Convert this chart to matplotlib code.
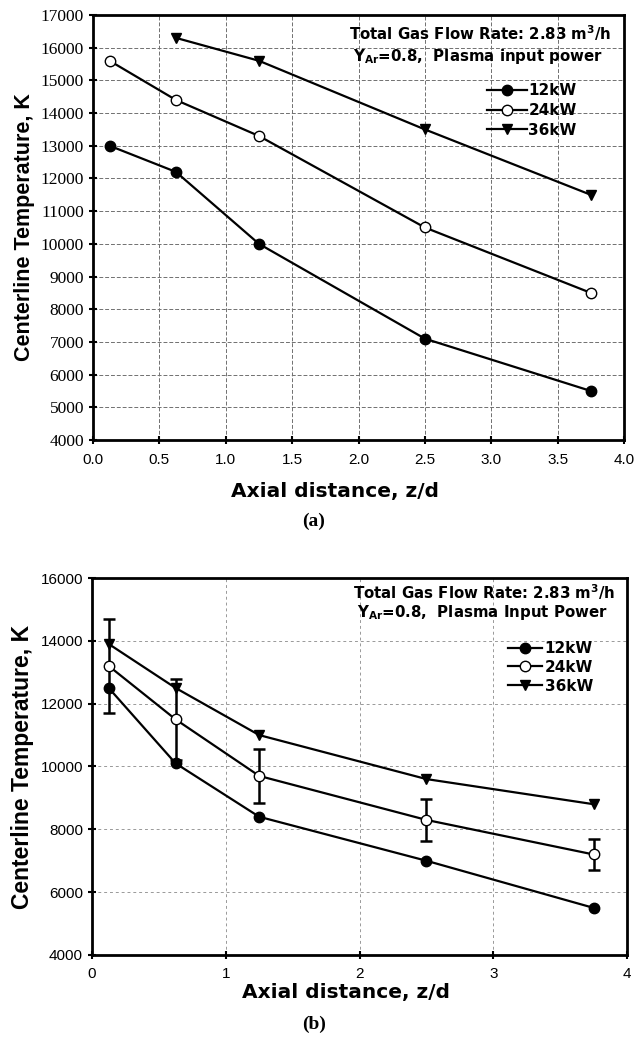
import matplotlib
matplotlib.use("Agg")
import matplotlib.pyplot as plt
from matplotlib.lines import Line2D

# data
z = [0.125, 0.625, 1.25, 2.5, 3.75]
z36_a = [0.625, 1.25, 2.5, 3.75]
t12_a = [13000, 12200, 10000, 7100, 5500]
t24_a = [15600, 14400, 13300, 10500, 8500]
t36_a = [16300, 15600, 13500, 11500]

t12_b = [12500, 10100, 8400, 7000, 5500]
t24_b = [13200, 11500, 9700, 8300, 7200]
t36_b = [13900, 12500, 11000, 9600, 8800]
err24_b = [1500, 1300, 870, 670, 500]

labels = ["12kW", "24kW", "36kW"]

plt.rcParams['font.family'] = ['Liberation Sans', 'DejaVu Sans']

fig = plt.figure(figsize=(6.34, 10.44), dpi=100)
W, H = 634, 1044


def box(x0, y0, x1, y1):
    return [x0 / W, 1 - y1 / H, (x1 - x0) / W, (y1 - y0) / H]


def style_axes(ax, grid_ls, gcol):
    for s in ax.spines.values():
        s.set_linewidth(2.0)
        s.set_color("black")
    ax.grid(True, color=gcol, linestyle=grid_ls, linewidth=0.7)
    ax.set_axisbelow(True)
    ax.tick_params(direction="inout", length=6, width=1.5, colors="black")


bold = dict(family=["DejaVu Sans"], fontweight="bold")
narrow = dict(family=["Liberation Sans Narrow", "Liberation Sans"], fontweight="bold")
mk = dict(color="black", lw=1.6, markersize=7.5)

# ---- (a)
ax1 = fig.add_axes(box(93, 15, 624, 440))
ax1.plot(z, t12_a, marker="o", mfc="black", **mk)
ax1.plot(z, t24_a, marker="o", mfc="white", **mk)
ax1.plot(z36_a, t36_a, marker="v", mfc="black", **mk)
ax1.set_xlim(0, 4)
ax1.set_ylim(4000, 17000)
ax1.set_xticks([0, 0.5, 1, 1.5, 2, 2.5, 3, 3.5, 4])
ax1.set_xticklabels(["0.0", "0.5", "1.0", "1.5", "2.0", "2.5", "3.0", "3.5", "4.0"])
ax1.set_yticks(range(4000, 17001, 1000))
style_axes(ax1, (0, (4, 2)), "#707070")
ax1.tick_params(axis="x", labelsize=11, pad=6)
for t in ax1.get_yticklabels():
    t.set_family("Liberation Serif")
    t.set_fontsize(12.5)
ax1.set_xlabel("Axial distance, z/d", fontsize=14.5, **bold)
ax1.xaxis.set_label_coords(0.456, -0.1)
ax1.set_ylabel("Centerline Temperature, K", fontsize=15.5, labelpad=4, **narrow)
ax1.text(480 / W, 1 - 33 / H, "Total Gas Flow Rate: 2.83 m$^\\mathbf{3}$/h",
         transform=fig.transFigure, ha="center", va="center", fontsize=10.8, **bold)
ax1.text(478 / W, 1 - 57 / H, "Y$_{\\mathbf{Ar}}$=0.8,  Plasma input power",
         transform=fig.transFigure, ha="center", va="center", fontsize=10.8, **bold)

h1 = [Line2D([], [], marker="o", mfc="black", **mk),
      Line2D([], [], marker="o", mfc="white", **mk),
      Line2D([], [], marker="v", mfc="black", **mk)]
ax1.legend(h1, labels, loc="upper left", bbox_to_anchor=(487 / W, 1 - 83 / H),
           bbox_transform=fig.transFigure, frameon=False,
           prop={"family": "DejaVu Sans", "weight": "bold", "size": 11},
           handlelength=2.6, handletextpad=0.1, labelspacing=0.32,
           borderpad=0, borderaxespad=0)
fig.text(314 / W, 1 - 521 / H, "(a)", family="Liberation Serif", fontweight="bold",
         fontsize=14, ha="center", va="center")

# ---- (b)
ax2 = fig.add_axes(box(92, 578, 627, 955))
ax2.plot(z, t12_b, marker="o", mfc="black", **mk)
ax2.errorbar(z, t24_b, yerr=err24_b, fmt="none", capsize=4, elinewidth=1.8,
             capthick=1.8, ecolor="black")
ax2.plot(z, t24_b, marker="o", mfc="white", **mk)
ax2.plot(z, t36_b, marker="v", mfc="black", **mk)
ax2.set_xlim(0, 4)
ax2.set_ylim(4000, 16000)
ax2.set_xticks([0, 1, 2, 3, 4])
ax2.set_yticks(range(4000, 16001, 2000))
style_axes(ax2, (0, (3, 3)), "#999999")
ax2.tick_params(axis="x", labelsize=11, pad=6)
ax2.tick_params(axis="y", labelsize=11)
ax2.set_xlabel("Axial distance, z/d", fontsize=14.5, **bold)
ax2.xaxis.set_label_coords(0.475, -0.075)
ax2.set_ylabel("Centerline Temperature, K", fontsize=16.5, labelpad=5, **narrow)
ax2.text(484 / W, 1 - 592 / H, "Total Gas Flow Rate: 2.83 m$^\\mathbf{3}$/h",
         transform=fig.transFigure, ha="center", va="center", fontsize=10.8, **bold)
ax2.text(482 / W, 1 - 613 / H, "Y$_{\\mathbf{Ar}}$=0.8,  Plasma Input Power",
         transform=fig.transFigure, ha="center", va="center", fontsize=10.8, **bold)
h2 = [Line2D([], [], marker="o", mfc="black", **mk),
      Line2D([], [], marker="o", mfc="white", **mk),
      Line2D([], [], marker="v", mfc="black", **mk)]
ax2.legend(h2, labels, loc="upper left", bbox_to_anchor=(508 / W, 1 - 641 / H),
           bbox_transform=fig.transFigure, frameon=False,
           prop={"family": "DejaVu Sans", "weight": "bold", "size": 11},
           handlelength=2.2, handletextpad=0.2, labelspacing=0.25,
           borderpad=0, borderaxespad=0)
fig.text(314 / W, 1 - 1024 / H, "(b)", family="Liberation Serif", fontweight="bold",
         fontsize=14, ha="center", va="center")

fig.savefig("out.png", dpi=100)
